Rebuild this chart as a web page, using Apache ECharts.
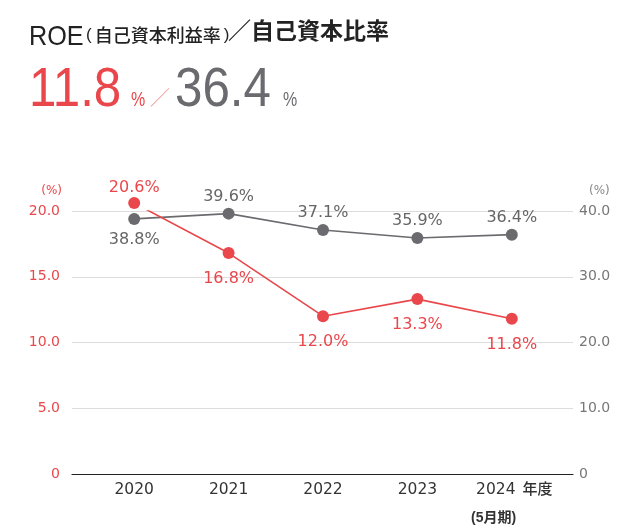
<!DOCTYPE html>
<html>
<head>
<meta charset="utf-8">
<script src="https://cdn.jsdelivr.net/npm/echarts@6/dist/echarts.min.js"></script>
<style>
  html, body { margin: 0; padding: 0; background: #fff; }
  #chart { width: 620px; height: 528px; }
</style>
</head>
<body>
<div id="chart"></div>
<script>
// data
const years = ['2020', '2021', '2022', '2023', '2024'];
const roe = [20.6, 16.8, 12.0, 13.3, 11.8];
const equityRatio = [38.8, 39.6, 37.1, 35.9, 36.4];
const roePos = ['top', 'bottom', 'bottom', 'bottom', 'bottom'];
const eqPos = ['bottom', 'top', 'top', 'top', 'top'];
const leftTicks = { min: 0, max: 20, interval: 5 };
const rightTicks = { min: 0, max: 40, interval: 10 };

const RED = '#e9474b';
const GREY = '#6b6b6f';
const FONT = '"Liberation Sans", Arial, "Noto Sans CJK JP", sans-serif';
const NUMFONT = '"DejaVu Sans", "Noto Sans CJK JP", sans-serif';

const fmtTick = v => v === 0 ? '0' : v.toFixed(1);

let chart = echarts.init(document.getElementById('chart'));
chart.setOption({
  backgroundColor: '#fff',
  textStyle: { fontFamily: NUMFONT },
  graphic: [
    { type: 'text', x: 29, y: 23, scaleX: 0.9, style: { text: 'ROE', font: '28px ' + FONT, fill: '#222' } },
    { type: 'text', x: 86, y: 26, style: {
      text: '{p|(}{k|自己資本利益率}{p|)}', fill: '#222',
      rich: {
        p: { font: '17px ' + FONT, fill: '#222', padding: [0, 3, 0, 0] },
        k: { font: '500 18px "Noto Sans CJK JP"', fill: '#222', padding: [0, 3, 0, 0] }
      }
    } },
    { type: 'text', x: 228, y: 19, style: { text: '／自己資本比率', font: 'bold 23px "Noto Sans CJK JP"', fill: '#222' } },
    { type: 'text', x: 29, y: 63, scaleX: 0.88, style: { text: '11.8', font: '56px ' + FONT, fill: RED } },
    { type: 'text', x: 131, y: 90, scaleX: 0.8, style: { text: '%', font: '20px ' + FONT, fill: RED } },
    { type: 'text', x: 150, y: 87, style: { text: '／', font: '20px "Noto Sans CJK JP"', fill: '#f2a0a0' } },
    { type: 'text', x: 175, y: 63, scaleX: 0.88, style: { text: '36.4', font: '56px ' + FONT, fill: GREY } },
    { type: 'text', x: 283, y: 90, scaleX: 0.8, style: { text: '%', font: '20px ' + FONT, fill: GREY } }
  ],
  grid: [
    { left: 72, right: 47, top: 211, bottom: 54, outerBoundsMode: 'none' },
    { left: 87, right: 61, top: 211, bottom: 54, outerBoundsMode: 'none' }
  ],
  xAxis: [{
    gridIndex: 0, type: 'value', min: 0, max: 1,
    axisLine: { show: true, lineStyle: { color: '#222', width: 1.2 } },
    axisTick: { show: false }, axisLabel: { show: false }, splitLine: { show: false }
  }, {
    gridIndex: 1, type: 'category', data: years,
    axisLine: { show: false }, axisTick: { show: false },
    axisLabel: {
      interval: 0, margin: 6, color: '#333', fontSize: 15.5, fontFamily: NUMFONT, lineHeight: 20,
      formatter: (v, i) => i === years.length - 1 ? '{a|' + v + '}{c|年度}\n{b|(5月期)}' : v,
      rich: {
        a: { fontSize: 15.5, color: '#333', fontFamily: NUMFONT, lineHeight: 20, padding: [0, 0, 0, 5] },
        c: { fontSize: 15, color: '#333', fontFamily: NUMFONT, fontWeight: 500, lineHeight: 20, padding: [0, 0, 0, 7] },
        b: { fontSize: 14, width: 80, align: 'left', color: '#333', fontFamily: FONT, fontWeight: 'bold', lineHeight: 36 }
      }
    }
  }],
  yAxis: [{
    gridIndex: 0, type: 'value', position: 'left', ...leftTicks,
    name: '(%)', nameLocation: 'end', nameGap: 14,
    nameTextStyle: { color: RED, fontSize: 12, align: 'right', padding: [0, 10, 0, 0] },
    axisLine: { show: false }, axisTick: { show: false },
    axisLabel: { color: RED, fontSize: 14, margin: 12, formatter: fmtTick },
    splitLine: { lineStyle: { color: '#dcdcdc', width: 1 } }
  }, {
    gridIndex: 0, type: 'value', position: 'right', ...rightTicks,
    name: '(%)', nameLocation: 'end', nameGap: 14,
    nameTextStyle: { color: '#888', fontSize: 12, align: 'left', padding: [0, 0, 0, 16] },
    axisLine: { show: false }, axisTick: { show: false },
    axisLabel: { color: '#777', fontSize: 14, margin: 6, formatter: fmtTick },
    splitLine: { show: false }
  }, {
    gridIndex: 1, type: 'value', ...leftTicks, show: false
  }, {
    gridIndex: 1, type: 'value', ...rightTicks, show: false
  }],
  series: [{
    name: '自己資本比率', type: 'line', xAxisIndex: 1, yAxisIndex: 3, clip: false,
    data: equityRatio.map((v, i) => ({ value: v, label: { position: eqPos[i], distance: eqPos[i] === 'top' ? 3 : 7 } })),
    symbol: 'circle', symbolSize: 12,
    lineStyle: { color: GREY, width: 1.6 },
    itemStyle: { color: GREY },
    label: { show: true, color: '#666', fontSize: 16, formatter: p => p.value.toFixed(1) + '%' }
  }, {
    name: 'ROE', type: 'line', xAxisIndex: 1, yAxisIndex: 2, clip: false,
    data: roe.map((v, i) => ({ value: v, label: { position: roePos[i], distance: roePos[i] === 'top' ? 1 : 12 } })),
    symbol: 'circle', symbolSize: 12,
    lineStyle: { color: RED, width: 1.6 },
    itemStyle: { color: RED },
    label: { show: true, color: RED, fontSize: 16, formatter: p => p.value.toFixed(1) + '%' }
  }]
});
</script>
</body>
</html>
